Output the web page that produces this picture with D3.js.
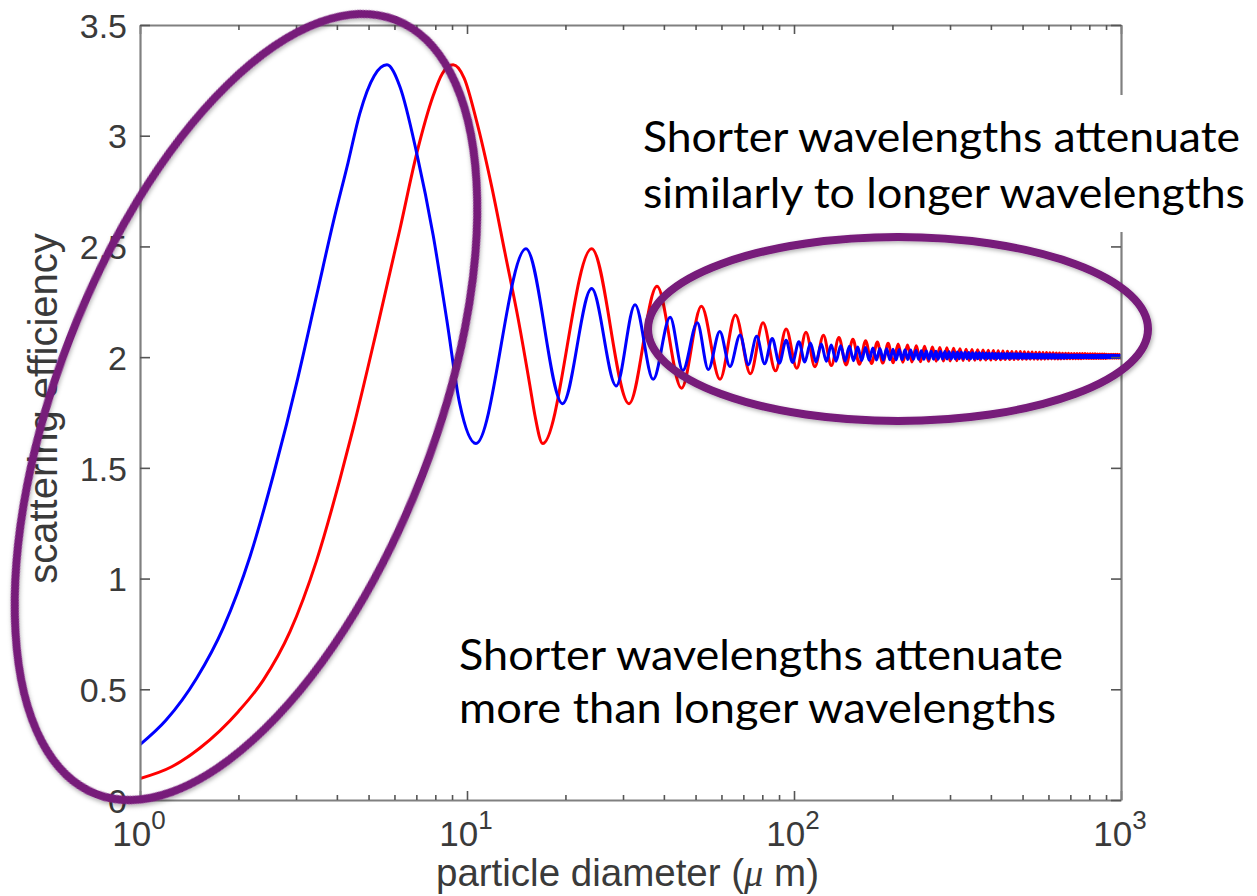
<!DOCTYPE html>
<html><head><meta charset="utf-8">
<script src="https://cdn.jsdelivr.net/npm/d3@7"></script>
<style>html,body{margin:0;padding:0;background:#fff;} svg{display:block;}</style>
</head><body>
<svg id="chart" width="1257" height="896"></svg>
<script>
// ---------- data ----------
const xMajorTicks = [1, 10, 100, 1000];
const xMajorExponents = ["0", "1", "2", "3"];
const xMinorTicks = [2,3,4,5,6,7,8,9,20,30,40,50,60,70,80,90,200,300,400,500,600,700,800,900];
const yTicks = [0, 0.5, 1, 1.5, 2, 2.5, 3, 3.5];
const yTickLabels = ["0", "0.5", "1", "1.5", "2", "2.5", "3", "3.5"];
const xLabelText = ["particle diameter (", "\u03bc", " m)"];
const yLabelText = "scattering efficiency";
const noteTop = ["Shorter wavelengths attenuate", "similarly to longer wavelengths"];
const noteBottom = ["Shorter wavelengths attenuate", "more than longer wavelengths"];

// shorter wavelength (blue): [diameter µm, scattering efficiency]
const blueCurve = [
 [1,0.25],[1.2,0.36],[1.49,0.55],[1.8,0.78],[2.17,1.1],[2.56,1.47],[2.81,1.7],[3.01,1.88],[3.47,2.28],[3.9,2.61],
 [4.33,2.88],[4.7,3.1],[5.2,3.27],[5.69,3.32],[6.24,3.22],[7.02,2.92],[7.88,2.55],[8.67,2.17],[9.5,1.79],[10.65,1.61],
 [15.15,2.49],[19.6,1.79],[24.05,2.31],[28.6,1.87],[32.65,2.237],[37.1,1.9],[41.8,2.18],[45.7,1.94],[50.6,2.155],[54.7,1.944],
 [59.3,2.116],[63.7,1.958],[68.4,2.1],[72.5,1.966],
 [76.9,2.094],[81.3,1.970],[85.8,2.084],[90.2,1.973],[94.6,2.076],[99.0,1.976],[103.5,2.070],[107.9,1.978],[112.3,2.064],[116.7,1.979],
 [121.2,2.059],[125.6,1.981],[130.0,2.055],[134.4,1.982],[138.9,2.052],[143.3,1.983],[147.7,2.049],[152.1,1.984],[156.6,2.046],[161.0,1.985],
 [165.4,2.044],[169.8,1.986],[174.3,2.041],[178.7,1.987],[183.1,2.039],[187.5,1.987],[192.0,2.038],[196.4,1.988],[200.8,2.036],[205.2,1.988],
 [209.7,2.034],[214.1,1.989],[218.5,2.033],[222.9,1.989],[227.4,2.032],[231.8,1.990],[236.2,2.030],[240.6,1.990],[245.1,2.029],[249.5,1.990],
 [253.9,2.028],[258.3,1.991],[262.8,2.027],[267.2,1.991],[271.6,2.027],[276.0,1.991],[280.5,2.026],[284.9,1.992],[289.3,2.025],[293.7,1.992],
 [298.2,2.024],[302.6,1.992],[307.0,2.023],[311.4,1.992],[315.9,2.023],[320.3,1.993],[324.7,2.022],[329.1,1.993],[333.6,2.022],[338.0,1.993],
 [342.4,2.021],[346.8,1.993],[351.3,2.020],[355.7,1.993],[360.1,2.020],[364.5,1.993],[369.0,2.020],[373.4,1.994],[377.8,2.019],[382.2,1.994],
 [386.7,2.019],[391.1,1.994],[395.5,2.018],[399.9,1.994],[404.4,2.018],[408.8,1.994],[413.2,2.017],[417.6,1.994],[422.1,2.017],[426.5,1.994],
 [430.9,2.017],[435.3,1.995],[439.8,2.016],[444.2,1.995],[448.6,2.016],[453.0,1.995],[457.5,2.016],[461.9,1.995],[466.3,2.015],[470.7,1.995],
 [475.2,2.015],[479.6,1.995],[484.0,2.015],[488.4,1.995],[492.9,2.015],[497.3,1.995],[501.7,2.014],[506.1,1.995],[510.6,2.014],[515.0,1.995],
 [519.4,2.014],[523.8,1.995],[528.3,2.014],[532.7,1.996],[537.1,2.013],[541.5,1.996],[546.0,2.013],[550.4,1.996],[554.8,2.013],[559.2,1.996],
 [563.7,2.013],[568.1,1.996],[572.5,2.013],[576.9,1.996],[581.4,2.012],[585.8,1.996],[590.2,2.012],[594.6,1.996],[599.1,2.012],[603.5,1.996],
 [607.9,2.012],[612.3,1.996],[616.8,2.012],[621.2,1.996],[625.6,2.012],[630.0,1.996],[634.5,2.011],[638.9,1.996],[643.3,2.011],[647.7,1.996],
 [652.2,2.011],[656.6,1.996],[661.0,2.011],[665.4,1.996],[669.9,2.011],[674.3,1.996],[678.7,2.011],[683.1,1.997],[687.6,2.010],[692.0,1.997],
 [696.4,2.010],[700.8,1.997],[705.3,2.010],[709.7,1.997],[714.1,2.010],[718.5,1.997],[723.0,2.010],[727.4,1.997],[731.8,2.010],[736.2,1.997],
 [740.7,2.010],[745.1,1.997],[749.5,2.010],[753.9,1.997],[758.4,2.009],[762.8,1.997],[767.2,2.009],[771.6,1.997],[776.1,2.009],[780.5,1.997],
 [784.9,2.009],[789.3,1.997],[793.8,2.009],[798.2,1.997],[802.6,2.009],[807.0,1.997],[811.5,2.009],[815.9,1.997],[820.3,2.009],[824.7,1.997],
 [829.2,2.009],[833.6,1.997],[838.0,2.009],[842.4,1.997],[846.9,2.009],[851.3,1.997],[855.7,2.008],[860.1,1.997],[864.6,2.008],[869.0,1.997],
 [873.4,2.008],[877.8,1.997],[882.3,2.008],[886.7,1.997],[891.1,2.008],[895.5,1.997],[900.0,2.008],[904.4,1.997],[908.8,2.008],[913.2,1.997],
 [917.7,2.008],[922.1,1.997],[926.5,2.008],[930.9,1.997],[935.4,2.008],[939.8,1.997],[944.2,2.008],[948.6,1.998],[953.1,2.008],[957.5,1.998],
 [961.9,2.007],[966.3,1.998],[970.8,2.007],[975.2,1.998],[979.6,2.007],[984.0,1.998],[988.5,2.007],[992.9,1.998],[997.3,2.007],[1000,2.003]
];

// longer wavelength (red): [diameter µm, scattering efficiency]
const redCurve = [
 [1,0.097],[1.25,0.15],[1.525,0.235],[2.0,0.4],[2.38,0.54],[2.875,0.76],[3.465,1.08],[4.09,1.45],[4.49,1.68],[5.29,2.12],
 [6.24,2.58],[7.02,2.92],[7.88,3.18],[8.4,3.28],[9.07,3.32],[9.8,3.26],[10.68,3.07],[11.9,2.77],[13.07,2.47],[14.35,2.17],
 [15.58,1.87],[16.12,1.74],[17.04,1.61],[24.06,2.49],[31.3,1.79],[38.1,2.32],[45.3,1.86],[52.1,2.23],[59.4,1.9],[66.2,2.19],
 [73.6,1.925],[80.4,2.155],[87.8,1.938],[94.6,2.127],[102,1.95],[108.8,2.112],
 [115.9,1.957],[123.0,2.099],[130.1,1.962],[137.2,2.089],[144.3,1.965],[151.4,2.081],[158.5,1.968],[165.6,2.074],[172.7,1.971],[179.8,2.068],
 [186.9,1.973],[194.0,2.063],[201.1,1.975],[208.2,2.059],[215.3,1.977],[222.4,2.055],[229.5,1.978],[236.6,2.052],[243.7,1.979],[250.8,2.049],
 [257.9,1.981],[265.0,2.046],[272.1,1.982],[279.2,2.044],[286.3,1.983],[293.4,2.042],[300.5,1.983],[307.6,2.040],[314.7,1.984],[321.8,2.038],
 [328.9,1.985],[336.0,2.036],[343.1,1.985],[350.2,2.035],[357.3,1.986],[364.4,2.033],[371.5,1.987],[378.6,2.032],[385.7,1.987],[392.8,2.031],
 [399.9,1.987],[407.0,2.030],[414.1,1.988],[421.2,2.029],[428.3,1.988],[435.4,2.028],[442.5,1.989],[449.6,2.027],[456.7,1.989],[463.8,2.026],
 [470.9,1.989],[478.0,2.026],[485.1,1.990],[492.2,2.025],[499.3,1.990],[506.4,2.024],[513.5,1.990],[520.6,2.023],[527.7,1.991],[534.8,2.023],
 [541.9,1.991],[549.0,2.022],[556.1,1.991],[563.2,2.022],[570.3,1.991],[577.4,2.021],[584.5,1.991],[591.6,2.021],[598.7,1.992],[605.8,2.020],
 [612.9,1.992],[620.0,2.020],[627.1,1.992],[634.2,2.019],[641.3,1.992],[648.4,2.019],[655.5,1.992],[662.6,2.018],[669.7,1.993],[676.8,2.018],
 [683.9,1.993],[691.0,2.018],[698.1,1.993],[705.2,2.017],[712.3,1.993],[719.4,2.017],[726.5,1.993],[733.6,2.017],[740.7,1.993],[747.8,2.016],
 [754.9,1.993],[762.0,2.016],[769.1,1.994],[776.2,2.016],[783.3,1.994],[790.4,2.015],[797.5,1.994],[804.6,2.015],[811.7,1.994],[818.8,2.015],
 [825.9,1.994],[833.0,2.015],[840.1,1.994],[847.2,2.014],[854.3,1.994],[861.4,2.014],[868.5,1.994],[875.6,2.014],[882.7,1.994],[889.8,2.014],
 [896.9,1.994],[904.0,2.013],[911.1,1.995],[918.2,2.013],[925.3,1.995],[932.4,2.013],[939.5,1.995],[946.6,2.013],[953.7,1.995],[960.8,2.013],
 [967.9,1.995],[975.0,2.013],[982.1,1.995],[989.2,2.012],[996.3,1.995],[1000,2.003]
];

// ---------- drawing ----------
const W = 1257, H = 896;
const M = {left: 140, right: 1121, top: 25, bottom: 800};
const svg = d3.select("#chart");

const x = d3.scaleLog().domain([1, 1000]).range([M.left, M.right]);
const y = d3.scaleLinear().domain([0, 3.5]).range([M.bottom, M.top]);

const defs = svg.append("defs");
defs.append("clipPath").attr("id", "plotclip").append("rect")
  .attr("x", M.left).attr("y", M.top - 5).attr("width", M.right - M.left).attr("height", M.bottom - M.top + 5);
const f = defs.append("filter").attr("id", "shadow").attr("x", "-10%").attr("y", "-10%").attr("width", "120%").attr("height", "120%");
f.append("feDropShadow").attr("dx", 1.5).attr("dy", 2).attr("stdDeviation", 2)
  .attr("flood-color", "#000").attr("flood-opacity", 0.3);

svg.append("rect").attr("width", W).attr("height", H).attr("fill", "#fff");

const tickFont = "'Liberation Sans', Arial, Helvetica, sans-serif";
const textGrey = "#3a3a3a";
const frameGrey = "#808080";

// curves
const line = d3.line().x(d => x(d[0])).y(d => y(d[1])).curve(d3.curveMonotoneX);
const plot = svg.append("g").attr("clip-path", "url(#plotclip)");
plot.append("path").datum(redCurve).attr("d", line)
  .attr("fill", "none").attr("stroke", "#ff0000").attr("stroke-width", 3).attr("stroke-linejoin", "round");
plot.append("path").datum(blueCurve).attr("d", line)
  .attr("fill", "none").attr("stroke", "#0000ff").attr("stroke-width", 3).attr("stroke-linejoin", "round");

// axes (ticks pointing inward, box frame)
function styleAxis(g) {
  g.select(".domain").attr("stroke", frameGrey).attr("stroke-width", 2.2);
  g.selectAll(".tick line").attr("stroke", "#555").attr("stroke-width", 1.6);
}
const gBottom = svg.append("g").attr("transform", `translate(0,${M.bottom})`)
  .call(d3.axisBottom(x).tickValues(xMajorTicks).tickSizeInner(-9).tickSizeOuter(0).tickFormat(""));
styleAxis(gBottom);
const gBottomMinor = svg.append("g").attr("transform", `translate(0,${M.bottom})`)
  .call(d3.axisBottom(x).tickValues(xMinorTicks).tickSizeInner(-5).tickSizeOuter(0).tickFormat(""));
gBottomMinor.select(".domain").remove();
styleAxis(gBottomMinor);

const gTop = svg.append("g").attr("transform", `translate(0,${M.top})`)
  .call(d3.axisTop(x).tickValues(xMajorTicks).tickSizeInner(-9).tickSizeOuter(0).tickFormat(""));
styleAxis(gTop);
const gTopMinor = svg.append("g").attr("transform", `translate(0,${M.top})`)
  .call(d3.axisTop(x).tickValues(xMinorTicks).tickSizeInner(-5).tickSizeOuter(0).tickFormat(""));
gTopMinor.select(".domain").remove();
styleAxis(gTopMinor);

const gLeft = svg.append("g").attr("transform", `translate(${M.left},0)`)
  .call(d3.axisLeft(y).tickValues(yTicks).tickSizeInner(-10).tickSizeOuter(0).tickPadding(13)
        .tickFormat((d, i) => yTickLabels[i]));
styleAxis(gLeft);
gLeft.selectAll(".tick text").attr("font-family", tickFont).attr("font-size", 34)
  .attr("fill", textGrey).attr("dy", "0.36em");

const gRight = svg.append("g").attr("transform", `translate(${M.right},0)`)
  .call(d3.axisRight(y).tickValues(yTicks).tickSizeInner(-10).tickSizeOuter(0).tickFormat(""));
styleAxis(gRight);

// x tick labels 10^n
const xl = svg.append("g").selectAll("text").data(xMajorTicks).join("text")
  .attr("x", d => x(d) - 1).attr("y", 846)
  .attr("text-anchor", "middle")
  .attr("font-family", tickFont).attr("fill", textGrey);
xl.append("tspan").attr("font-size", 35).text("10");
xl.append("tspan").attr("font-size", 26).attr("dy", -17).text((d, i) => xMajorExponents[i]);

// axis labels
const xLab = svg.append("text").attr("x", (M.left + M.right) / 2 - 3).attr("y", 886)
  .attr("text-anchor", "middle").attr("font-family", tickFont).attr("font-size", 38.5).attr("fill", textGrey);
xLab.append("tspan").text(xLabelText[0]);
xLab.append("tspan").attr("font-family", "'Liberation Serif', 'DejaVu Serif', serif").attr("font-style", "italic").text(xLabelText[1]);
xLab.append("tspan").text(xLabelText[2]);

svg.append("text")
  .attr("transform", `translate(57,${(M.top + M.bottom) / 2 - 4}) rotate(-90)`)
  .attr("text-anchor", "middle").attr("font-family", tickFont).attr("font-size", 40).attr("fill", textGrey)
  .text(yLabelText);

// annotation text: top-right with white background box
const noteFont = "Lato, 'Open Sans', sans-serif";
svg.append("rect").attr("x", 632).attr("y", 95).attr("width", W - 632).attr("height", 137).attr("fill", "#fff");
const topLines = [[643, 152, 597], [643, 208, 602]];
noteTop.forEach((t, i) => {
  svg.append("text").attr("x", topLines[i][0]).attr("y", topLines[i][1])
    .attr("font-family", noteFont).attr("font-size", 43).attr("fill", "#000")
    .attr("textLength", topLines[i][2]).attr("lengthAdjust", "spacingAndGlyphs").text(t);
});
const botLines = [[459, 670, 604], [459, 723, 597]];
noteBottom.forEach((t, i) => {
  svg.append("text").attr("x", botLines[i][0]).attr("y", botLines[i][1])
    .attr("font-family", noteFont).attr("font-size", 43).attr("fill", "#000")
    .attr("textLength", botLines[i][2]).attr("lengthAdjust", "spacingAndGlyphs").text(t);
});

// highlight ellipses
const purple = "#771a7a";
svg.append("ellipse").attr("cx", 246).attr("cy", 407).attr("rx", 189).attr("ry", 415)
  .attr("transform", "rotate(21.15,246,407)")
  .attr("fill", "none").attr("stroke", purple).attr("stroke-width", 8).attr("filter", "url(#shadow)");
svg.append("ellipse").attr("cx", 898).attr("cy", 329).attr("rx", 250).attr("ry", 92)
  .attr("fill", "none").attr("stroke", purple).attr("stroke-width", 8).attr("filter", "url(#shadow)");
</script>
</body></html>
